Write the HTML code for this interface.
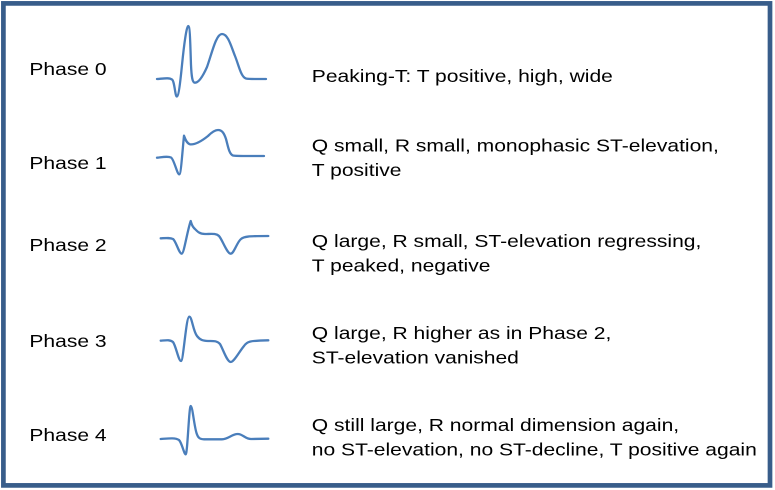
<!DOCTYPE html>
<html>
<head>
<meta charset="utf-8">
<style>
  html, body { margin: 0; padding: 0; background: #ffffff; }
  body { width: 775px; height: 490px; overflow: hidden; }
  svg { display: block; }
  text { font-family: "Liberation Sans", Arial, sans-serif; font-size: 18px; fill: #000; }
</style>
</head>
<body>
<svg width="775" height="490" viewBox="0 0 775 490" xmlns="http://www.w3.org/2000/svg">
  <rect x="0" y="0" width="775" height="490" fill="#ffffff"/>
  <rect x="3.4" y="3.4" width="766.6" height="482" fill="none" stroke="#385D8A" stroke-width="4.7"/>

  <g fill="none" stroke="#4A7EBB" stroke-width="2.3" stroke-linecap="round" stroke-linejoin="round">
    <!-- Phase 0 -->
    <path d="M157,79 C164,78.5 169,77.5 172,79.5 C174.5,81 175.2,96.5 176.7,96.5 C178.5,96.5 180,85 182,65 C184,45 186.5,26 188.3,26 C190,26 190.3,45 191,65 C191.6,78 192.5,82.7 195,82.7 C199,82.7 203,76 207,67 C212,53 216,34 222,34 C228,34 231,46 235,56 C239,66 241,77 246,78.5 C249,79.2 252,79 266,79"/>
    <!-- Phase 1 -->
    <path d="M157,157.7 C163,157 168,156 171,157.5 C174,159 177,174.3 179.3,174.3 C181,174.3 182.5,150 184,135.7 C185,138 186,143 190,144.3 C196,145 203,140 208,136 C212,132 215,130 218,130 C222,130 224,133 226,139 C228,146 229,154 233,155.5 C236,156.2 240,156 264,156"/>
    <!-- Phase 2 -->
    <path d="M160.7,238.3 C166,238 170,237.5 173,239 C176,241 179,253.7 181.7,253.7 C184,253.7 187,232 190.7,221 C191.5,224 192,226 194,228 C197,231 199,234 205,234 C211,234 216,233 219,236 C222,239 227,253.7 230.7,253.7 C234,253.7 237,242 241,239 C244,236.5 248,236 268.3,236"/>
    <!-- Phase 3 -->
    <path d="M160.7,340.7 C166,340.3 170,339.5 173,342 C176,346 178.5,361 181,361 C183.5,361 186,316.7 189.3,316.7 C192,316.7 193,331 197,336 C200,340 203,340.7 208,341 C213,341 217,340.5 220,344 C223,349 227,362 230.7,362 C234,362 239,352 244,346 C247,341.5 249,340.7 268.3,340.3"/>
    <!-- Phase 4 -->
    <path d="M160.7,439 C168,438.5 175,437.5 179,440 C182,443 184,454.3 185.7,454.3 C187.5,454.3 189,406 190.7,406 C192.5,406 194,425 196.5,433 C198,438 200,439.3 204,439.3 L222,439.3 C228,439.3 232,434 237.7,434 C243,434 245,439 251,439 L268.3,438.7"/>
  </g>

  <g transform="scale(1.17,1)">
    <text x="25.13" y="75">Phase 0</text>
    <text x="25.13" y="169">Phase 1</text>
    <text x="25.13" y="251">Phase 2</text>
    <text x="25.13" y="347">Phase 3</text>
    <text x="25.13" y="441">Phase 4</text>

    <text x="266.5" y="82">Peaking-T: T positive, high, wide</text>
    <text x="266.5" y="151.5">Q small, R small, monophasic ST-elevation,</text>
    <text x="266.5" y="176">T positive</text>
    <text x="266.5" y="247">Q large, R small, ST-elevation regressing,</text>
    <text x="266.5" y="271.5">T peaked, negative</text>
    <text x="266.5" y="339">Q large, R higher as in Phase 2,</text>
    <text x="266.5" y="363.5">ST-elevation vanished</text>
    <text x="266.5" y="431">Q still large, R normal dimension again,</text>
    <text x="266.5" y="455.5">no ST-elevation, no ST-decline, T positive again</text>
  </g>
</svg>
</body>
</html>
